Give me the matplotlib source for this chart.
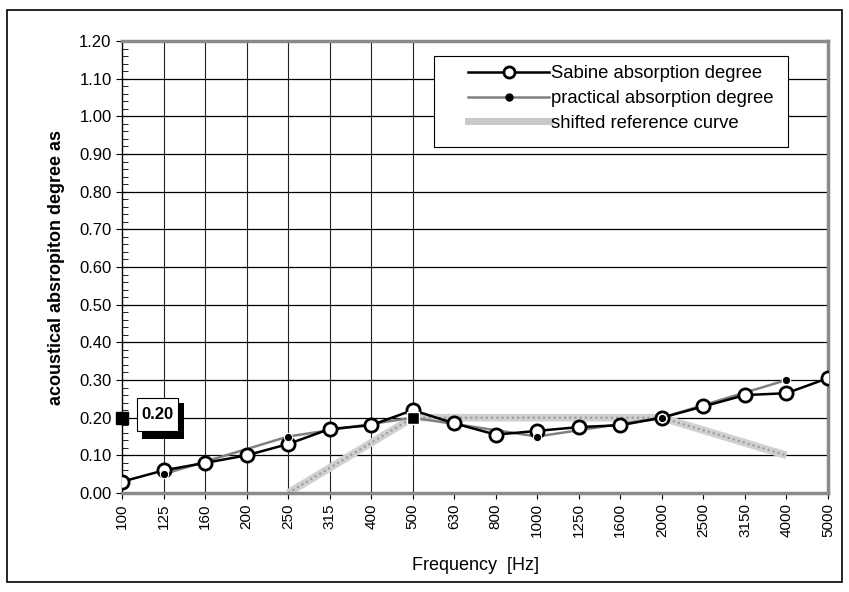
import matplotlib
matplotlib.use('Agg')
import matplotlib.pyplot as plt
from matplotlib.patches import Rectangle
from matplotlib.ticker import MultipleLocator

plt.rcParams['font.family'] = ['Liberation Sans', 'DejaVu Sans']

# frequences (bandes de tiers d'octave)
freqs = ['100', '125', '160', '200', '250', '315', '400', '500', '630', '800',
         '1000', '1250', '1600', '2000', '2500', '3150', '4000', '5000']

# degre d'absorption Sabine (tiers d'octave)
sabine = [0.03, 0.06, 0.08, 0.10, 0.13, 0.17, 0.18, 0.22, 0.185, 0.155,
          0.165, 0.175, 0.18, 0.20, 0.23, 0.26, 0.265, 0.305]

# degre d'absorption pratique (octave)
prac_freqs = ['125', '250', '500', '1000', '2000', '4000']
prac_vals = [0.05, 0.15, 0.20, 0.15, 0.20, 0.30]

# courbe de reference decalee
ref_freqs = ['250', '500', '1000', '2000', '4000']
ref_vals = [0.00, 0.20, 0.20, 0.20, 0.10]

alpha_w = 0.20
grid_freqs = ['125', '160', '200', '250', '315', '400', '500']

pos = {f: i for i, f in enumerate(freqs)}

fig = plt.figure(figsize=(8.49, 5.92), dpi=100)
ax = fig.add_axes([0.1437, 0.1672, 0.8316, 0.7635])

# cadre autour de la figure
fig.patches.append(Rectangle((7 / 849, 1 - 582 / 592), 835 / 849, 572 / 592,
                             transform=fig.transFigure, fill=False,
                             edgecolor='black', linewidth=1.2))

ax.set_xlim(0, len(freqs) - 1)
ax.set_ylim(0, 1.2)

# grille
for y in [i / 10 for i in range(1, 12)]:
    ax.axhline(y, color='black', linewidth=0.9, zorder=1)
for f in grid_freqs:
    ax.axvline(pos[f], color='#222222', linewidth=0.8, zorder=1)

# courbe de reference (hachuree)
rx = [pos[f] for f in ref_freqs]
ax.plot(rx, ref_vals, color='#d0d0d0', linewidth=5.5, solid_capstyle='butt', zorder=2)
ax.plot(rx, ref_vals, color='#999999', linewidth=1.5, linestyle=(0, (1, 1.5)), zorder=2)

# degre pratique
px = [pos[f] for f in prac_freqs]
ax.plot(px, prac_vals, color='#808080', linewidth=1.8, zorder=3)

# degre Sabine
ax.plot(range(len(freqs)), sabine, color='black', linewidth=1.8, marker='o',
        markersize=9.5, markerfacecolor='white', markeredgecolor='black',
        markeredgewidth=2, zorder=4)

# points pratiques par-dessus
ax.plot(px, prac_vals, linestyle='none', marker='o', markersize=6,
        markerfacecolor='black', markeredgecolor='white', markeredgewidth=0.8, zorder=5)

# point alpha_w
ax.plot([pos['500']], [alpha_w], marker='s', color='black', markersize=8.5,
        markeredgecolor='white', zorder=6)
ax.plot([0], [alpha_w], marker='s', color='black', markersize=8,
        clip_on=False, zorder=6)
ax.add_patch(Rectangle((0.48, 0.143), 1.01, 0.096, facecolor='black',
                       edgecolor='none', zorder=6.5))
ax.add_patch(Rectangle((0.36, 0.165), 0.99, 0.087, facecolor='white',
                       edgecolor='black', linewidth=0.8, zorder=6.6))
ax.text(0.855, 0.2085, '%.2f' % alpha_w, fontsize=12, fontweight='bold',
        va='center', ha='center', zorder=7)

# legende (proxys) avec cadre dessine a part
l1, = ax.plot([], [], color='black', linewidth=1.8, marker='o', markersize=8,
              markerfacecolor='white', markeredgecolor='black', markeredgewidth=2)
l2, = ax.plot([], [], color='#808080', linewidth=1.8, marker='o', markersize=5,
              markerfacecolor='black', markeredgecolor='black')
l3, = ax.plot([], [], color='#c8c8c8', linewidth=5)
ax.add_patch(Rectangle((0.442, 0.765), 0.501, 0.202, transform=ax.transAxes,
                       facecolor='white', edgecolor='black', linewidth=0.8, zorder=8))
leg = ax.legend([l1, l2, l3], ['Sabine absorption degree', 'practical absorption degree',
                               'shifted reference curve'],
                loc='upper left', bbox_to_anchor=(0.490, 0.946), fontsize=13.3,
                frameon=False, handlelength=4.4, handletextpad=0.1, borderpad=0,
                labelspacing=0.42, borderaxespad=0)
leg.set_zorder(9)

# axes
ax.set_xticks(range(len(freqs)))
ax.set_xticklabels(freqs, rotation=90, fontsize=11)
ax.set_yticks([i / 10 for i in range(13)])
ax.set_yticklabels(['%.2f' % (i / 10) for i in range(13)], fontsize=12)
ax.yaxis.set_minor_locator(MultipleLocator(0.02))
ax.tick_params(axis='y', which='major', direction='inout', length=8)
ax.tick_params(axis='y', which='minor', direction='in', length=4)
ax.tick_params(axis='x', direction='out', length=4)

for s in ['top', 'right', 'bottom']:
    ax.spines[s].set_color('#8a8a8a')
    ax.spines[s].set_linewidth(2.5)
ax.spines['left'].set_color('black')
ax.spines['left'].set_linewidth(1)

ax.set_xlabel('Frequency  [Hz]', fontsize=13, labelpad=14)
ax.set_ylabel('acoustical absropiton degree as', fontsize=13, fontweight='bold',
              labelpad=10)

fig.savefig('out.png', dpi=100)
